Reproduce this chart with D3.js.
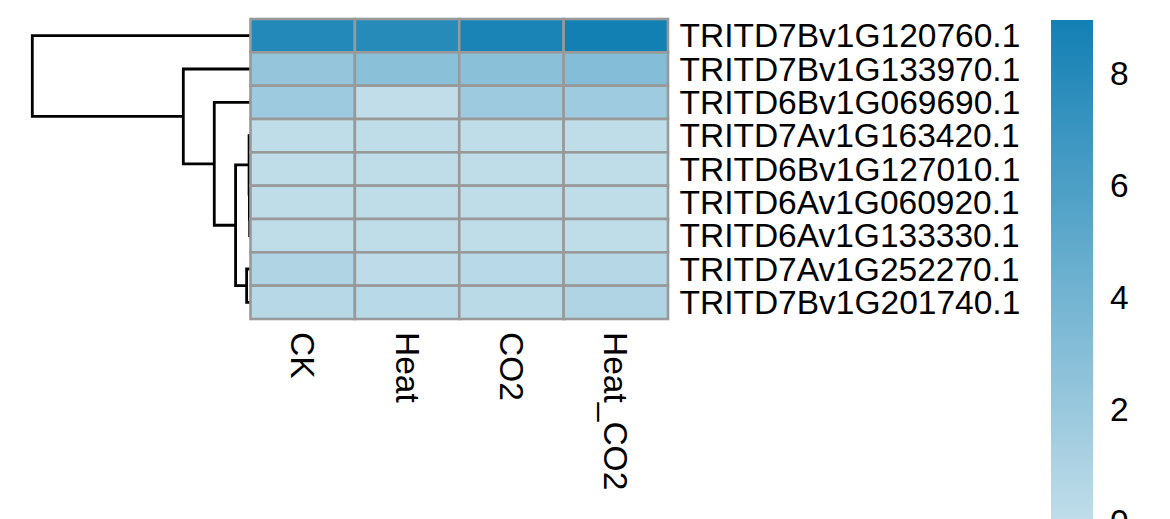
<!DOCTYPE html>
<html>
<head>
<meta charset="utf-8">
<script src="https://cdn.jsdelivr.net/npm/d3@7/dist/d3.min.js"></script>
<style>
  html, body { margin: 0; padding: 0; background: #fff; }
  svg { display: block; }
  text { font-family: "Liberation Sans", Arial, sans-serif; fill: #000; }
</style>
</head>
<body>
<svg id="chart" width="1170" height="519"></svg>
<script>
// ---- data ----
const genes = ["TRITD7Bv1G120760.1","TRITD7Bv1G133970.1","TRITD6Bv1G069690.1","TRITD7Av1G163420.1",
               "TRITD6Bv1G127010.1","TRITD6Av1G060920.1","TRITD6Av1G133330.1","TRITD7Av1G252270.1","TRITD7Bv1G201740.1"];
const treatments = ["CK","Heat","CO2","Heat_CO2"];
const valCK      = [8.10, 2.30, 1.80, 0.05, 0.05, 0.05, 0.05, 0.85, 0.45];
const valHeat    = [7.90, 2.80, 0.02, 0.05, 0.04, 0.05, 0.05, 0.15, 0.40];
const valCO2     = [8.60, 2.80, 1.80, 0.05, 0.05, 0.05, 0.05, 0.40, 0.30];
const valHeatCO2 = [8.95, 3.10, 1.75, 0.05, 0.05, 0.05, 0.05, 0.55, 0.85];
const legendTicks = [0, 2, 4, 6, 8];
// hclust-style merge table (negative = leaf index, 1-based in display order; positive = earlier merge)
const merge = [[-6,-7],[-5,1],[-4,2],[-8,-9],[3,4],[-3,5],[-2,6],[-1,7]];
const mergeHeight = [0.02, 0.04, 0.06, 0.22, 0.94, 2.33, 4.35, 14.2];

const seriesByTreatment = { "CK": valCK, "Heat": valHeat, "CO2": valCO2, "Heat_CO2": valHeatCO2 };
const cells = [];
treatments.forEach(t => genes.forEach((g, i) => cells.push({ gene: g, treatment: t, value: seriesByTreatment[t][i] })));

const svg = d3.select("#chart");
const FS = 33.5;

const x = d3.scaleBand().domain(treatments).range([250.5, 668]);
const y = d3.scaleBand().domain(genes).range([19, 319]);
const vmax = 8.95;
const color = d3.scaleLinear().domain([0, vmax]).range(["#c0dde9", "#1380b4"]).interpolate(d3.interpolateRgb);

// ---- dendrogram ----
const hx = d3.scaleLinear().domain([0, d3.max(mergeHeight)]).range([250, 32.3]);
const nodePos = [];
function pos(ref) {
  if (ref < 0) return { y: y(genes[-ref - 1]) + y.bandwidth() / 2, h: 0 };
  return nodePos[ref - 1];
}
const dg = svg.append("g").attr("fill", "none").attr("stroke", "#000").attr("stroke-width", 2.8);
merge.forEach((m, k) => {
  const a = pos(m[0]), b = pos(m[1]);
  const h = mergeHeight[k];
  const p = d3.path();
  p.moveTo(hx(a.h), a.y);
  p.lineTo(hx(h), a.y);
  p.lineTo(hx(h), b.y);
  p.lineTo(hx(b.h), b.y);
  dg.append("path").attr("d", p.toString());
  nodePos.push({ y: (a.y + b.y) / 2, h: h });
});

// ---- heatmap ----
svg.append("g").selectAll("rect").data(cells).join("rect")
  .attr("x", d => x(d.treatment))
  .attr("y", d => y(d.gene))
  .attr("width", x.bandwidth())
  .attr("height", y.bandwidth())
  .attr("fill", d => color(d.value))
  .attr("stroke", "#999999")
  .attr("stroke-width", 2.6);

// row labels
svg.append("g").selectAll("text").data(genes).join("text")
  .attr("x", 679.5)
  .attr("y", d => y(d) + y.bandwidth() / 2)
  .attr("dominant-baseline", "central")
  .style("font-size", FS + "px")
  .text(d => d);

// column labels
svg.append("g").selectAll("text").data(treatments).join("text")
  .attr("transform", d => `translate(${x(d) + x.bandwidth() / 2},332) rotate(90)`)
  .attr("dominant-baseline", "central")
  .attr("text-anchor", "start")
  .style("font-size", FS + "px")
  .text(d => d);

// ---- legend ----
const ly = d3.scaleLinear().domain([0, vmax]).range([521, 20]);
const defs = svg.append("defs");
const grad = defs.append("linearGradient").attr("id", "lg").attr("x1", 0).attr("x2", 0).attr("y1", 1).attr("y2", 0);
d3.range(0, 11).forEach(i => {
  grad.append("stop").attr("offset", i / 10).attr("stop-color", color(vmax * i / 10));
});
svg.append("rect")
  .attr("x", 1051).attr("width", 42)
  .attr("y", ly(vmax)).attr("height", ly(0) - ly(vmax))
  .attr("fill", "url(#lg)");
svg.append("g").selectAll("text").data(legendTicks).join("text")
  .attr("x", 1110)
  .attr("y", d => ly(d))
  .attr("dominant-baseline", "central")
  .style("font-size", FS + "px")
  .text(d => d);
</script>
</body>
</html>
